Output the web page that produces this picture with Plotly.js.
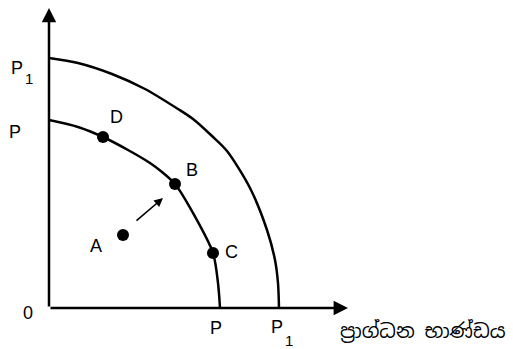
<!DOCTYPE html>
<html>
<head>
<meta charset="utf-8">
<script src="https://cdn.plot.ly/plotly-3.0.1.min.js"></script>
<style>html,body{margin:0;padding:0;background:#fff;}#chart{width:513px;height:349px;}</style>
</head>
<body>
<div id="chart"></div>
<script>
// Curves (x = capital goods, y = other good)
var innerX = [0, 29, 54, 79, 101, 113, 126, 144, 164, 169, 171];
var innerY = [188, 181, 171, 158, 145, 136, 124, 95, 55, 25, 0];
var outerX = [0, 29, 63, 96, 129, 144, 163, 178, 201, 218, 226, 229, 230];
var outerY = [250, 245, 234, 219, 199, 189, 172, 157, 120, 78, 48, 25, 0];
// Points
var pointNames = ["A", "B", "C", "D"];
var pointX = [74, 126, 164, 54];
var pointY = [73, 124, 55, 171];
var labelX = [47, 143, 182, 67];
var labelY = [62, 138, 56, 191];
// Move arrow A -> B
var moveFrom = [86, 86];
var moveTo = [114, 110];
// Axis labels
var yTickText = ["P", "P", "0"];
var yTickSub = ["1", "", ""];
var yTickVal = [240, 176, 0];
var xTickText = ["P", "P"];
var xTickSub = ["", "1"];
var xTickVal = [167, 228];
var xAxisTitle = "ප්‍රාග්ධන භාණ්ඩය";
var axisMax = 300;

var font = {family: "Liberation Sans, Arial, sans-serif", size: 18, color: "#000"};
var subFont = {family: "Liberation Sans, Arial, sans-serif", size: 15, color: "#000"};

var traces = [
  {x: innerX, y: innerY, mode: "lines", line: {color: "#000", width: 2.5, shape: "spline", smoothing: 0.8}, hoverinfo: "skip"},
  {x: outerX, y: outerY, mode: "lines", line: {color: "#000", width: 2.5, shape: "spline", smoothing: 0.8}, hoverinfo: "skip"},
  {x: pointX, y: pointY, mode: "markers", marker: {color: "#000", size: 12}, hoverinfo: "skip"}
];

var ann = [];
// axes with arrows
ann.push({x: axisMax - 1, y: 0, ax: 0, ay: 0, xref: "x", yref: "y", axref: "x", ayref: "y", showarrow: true, arrowhead: 2, arrowsize: 1.15, arrowwidth: 2.5, arrowcolor: "#000", text: ""});
ann.push({x: 0, y: axisMax, ax: 0, ay: 0, xref: "x", yref: "y", axref: "x", ayref: "y", showarrow: true, arrowhead: 2, arrowsize: 1.15, arrowwidth: 2.5, arrowcolor: "#000", text: ""});
// A -> B arrow
ann.push({x: moveTo[0], y: moveTo[1], ax: moveFrom[0], ay: moveFrom[1], xref: "x", yref: "y", axref: "x", ayref: "y", showarrow: true, arrowhead: 2, arrowsize: 1.1, arrowwidth: 1.6, arrowcolor: "#000", text: ""});
// point labels
for (var i = 0; i < pointNames.length; i++) {
  ann.push({x: labelX[i], y: labelY[i], xref: "x", yref: "y", xanchor: "center", yanchor: "middle", text: pointNames[i], showarrow: false, font: font});
}
// y labels
var yShift = [-32, -34, -21];
var yYShift = [0, 0, -5];
for (var j = 0; j < yTickText.length; j++) {
  ann.push({x: 0, xref: "paper", xshift: yShift[j], y: yTickVal[j], yref: "y", yshift: yYShift[j], xanchor: "center", yanchor: "middle", text: yTickText[j], showarrow: false, font: font});
  if (yTickSub[j]) {
    ann.push({x: 0, xref: "paper", xshift: yShift[j] + 12, y: yTickVal[j], yref: "y", yshift: yYShift[j] - 10, xanchor: "center", yanchor: "middle", text: yTickSub[j], showarrow: false, font: subFont});
  }
}
// x labels
var xYShift = [-20, -19];
for (var k = 0; k < xTickText.length; k++) {
  ann.push({x: xTickVal[k], xref: "x", y: 0, yref: "paper", yshift: xYShift[k], xanchor: "center", yanchor: "middle", text: xTickText[k], showarrow: false, font: font});
  if (xTickSub[k]) {
    ann.push({x: xTickVal[k], xref: "x", xshift: 12, y: 0, yref: "paper", yshift: xYShift[k] - 13, xanchor: "center", yanchor: "middle", text: xTickSub[k], showarrow: false, font: subFont});
  }
}
ann.push({x: 1.247, xref: "paper", y: 0, yref: "paper", yshift: -23, xanchor: "center", yanchor: "middle", text: xAxisTitle, showarrow: false, font: {family: "Noto Sans Sinhala, Noto Sans, sans-serif", size: 19.5, color: "#000"}});

var layout = {
  width: 513, height: 349,
  margin: {l: 49, r: 164, t: 8, b: 41, pad: 0},
  paper_bgcolor: "#fff", plot_bgcolor: "#fff",
  showlegend: false,
  xaxis: {range: [0, axisMax], visible: false, fixedrange: true},
  yaxis: {range: [0, axisMax], visible: false, fixedrange: true},
  annotations: ann
};

Plotly.newPlot("chart", traces, layout, {staticPlot: true, displayModeBar: false});
</script>
</body>
</html>
